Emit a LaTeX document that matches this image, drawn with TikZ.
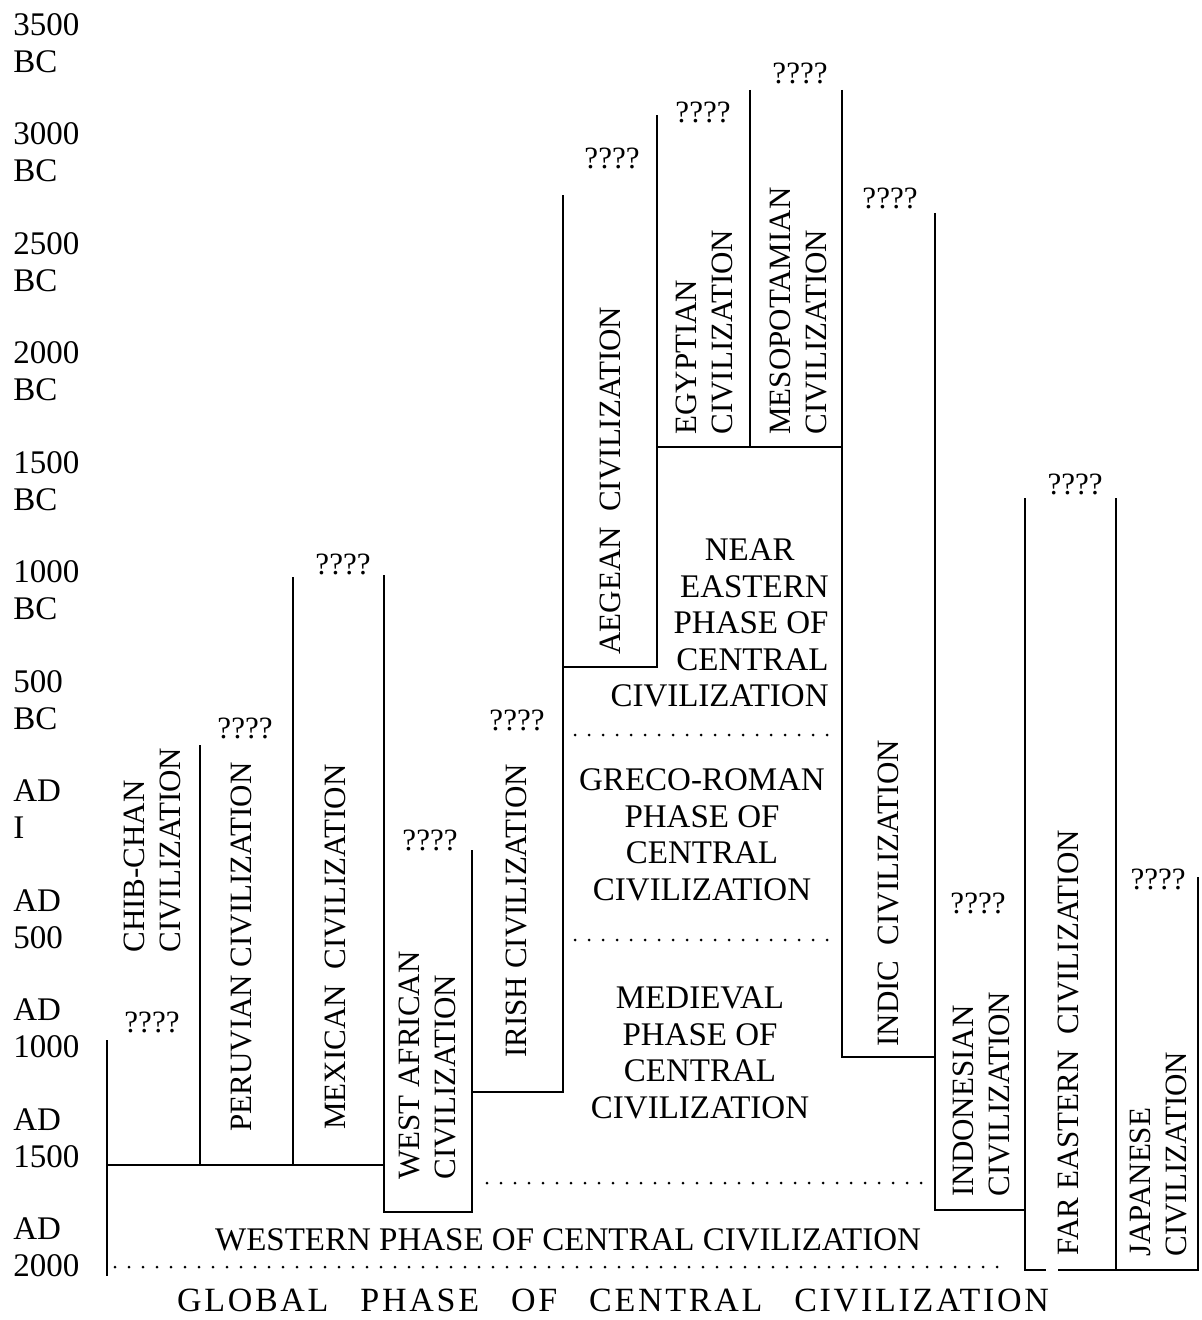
\documentclass[tikz,border=0pt]{standalone}
\usepackage{fontspec}
\setmainfont{Liberation Serif}

\begin{document}
\begin{tikzpicture}[x=0.5pt,y=-0.5pt,
    rule/.style={line width=1.2pt},
    dotline/.style={line width=1.5pt,line cap=round,dash pattern=on 0pt off 7pt},
    yearlab/.style={anchor=west,align=left,inner sep=0pt,font=\fontsize{16.5}{18.5}\selectfont},
    civ/.style={rotate=90,anchor=west,align=left,inner sep=0pt,font=\fontsize{15.5}{18}\selectfont},
    qmark/.style={inner sep=0pt,font=\fontsize{15.5}{18}\selectfont},
    phase/.style={align=center,inner sep=0pt,font=\fontsize{16.5}{18.3}\selectfont}]
\useasboundingbox (0,0) rectangle (1202,1320);

\foreach \lab [count=\i from 0] in {{3500\\BC},{3000\\BC},{2500\\BC},{2000\\BC},{1500\\BC},{1000\\BC},
    {500\\BC},{AD\\I},{AD\\500},{AD\\1000},{AD\\1500},{AD\\2000}}
    \node[yearlab] (yr\i) at (13,43+109.5*\i) {\lab};

\draw[rule] (107,1040) -- (107,1276);
\draw[rule] (107,1165) -- (384,1165);
\draw[rule] (200,745) -- (200,1165);
\draw[rule] (293,577) -- (293,1165);
\draw[rule] (384,575) -- (384,1212) -- (472,1212) -- (472,850);
\draw[rule] (472,1092) -- (563,1092) -- (563,195);
\draw[rule] (563,667) -- (657,667) -- (657,115);
\draw[rule] (657,447) -- (842,447);
\draw[rule] (750,90) -- (750,447);
\draw[rule] (842,90) -- (842,1057) -- (935,1057);
\draw[rule] (935,213) -- (935,1210) -- (1025,1210);
\draw[rule] (1025,498) -- (1025,1270) -- (1046,1270);
\draw[rule] (1058,1270) -- (1198,1270) -- (1198,877);
\draw[rule] (1116,498) -- (1116,1270);

\draw[dotline] (575,735) -- (840,735);
\draw[dotline] (575,940) -- (840,940);
\draw[dotline] (487,1183) -- (932,1183);
\draw[dotline] (115,1267) -- (1010,1267);

\begin{scope}[every node/.style={civ}]
    \node (chib) at (152,953) {CHIB-CHAN\\CIVILIZATION};
    \node (peru) at (241,1132) {PERUVIAN CIVILIZATION};
    \node (mex) at (335,1130) {MEXICAN\ \ CIVILIZATION};
    \node (wafr) at (427,1180) {WEST AFRICAN\\CIVILIZATION};
    \node (irish) at (516,1058) {IRISH CIVILIZATION};
    \node (aegean) at (610,655) {AEGEAN\ \ CIVILIZATION};
    \node (egypt) at (704,435) {EGYPTIAN\\CIVILIZATION};
    \node (meso) at (798,435) {MESOPOTAMIAN\\CIVILIZATION};
    \node (indic) at (888,1047) {INDIC\ \ CIVILIZATION};
    \node (indo) at (981,1197) {INDONESIAN\\CIVILIZATION};
    \node (fareast) at (1068,1256) {FAR EASTERN\ \ CIVILIZATION};
    \node (japan) at (1158,1257) {JAPANESE\\CIVILIZATION};
\end{scope}

\begin{scope}[every node/.style={qmark}]
    \node (q1) at (152,1022) {????};
    \node (q2) at (245,728) {????};
    \node (q3) at (343,564) {????};
    \node (q4) at (430,840) {????};
    \node (q5) at (517,720) {????};
    \node (q6) at (612,158) {????};
    \node (q7) at (703,112) {????};
    \node (q8) at (800,73) {????};
    \node (q9) at (890,198) {????};
    \node (q10) at (978,903) {????};
    \node (q11) at (1075,484) {????};
    \node (q12) at (1158,879) {????};
\end{scope}

\node[phase,align=right,anchor=east] (neareast) at (829,623) {NEAR\hspace*{17pt}\\EASTERN\\PHASE OF\\CENTRAL\\CIVILIZATION};
\node[phase] (grecorom) at (702,835) {GRECO-ROMAN\\PHASE OF\\CENTRAL\\CIVILIZATION};
\node[phase] (medieval) at (700,1053) {MEDIEVAL\\PHASE OF\\CENTRAL\\CIVILIZATION};
\node[phase] (western) at (568,1240) {WESTERN PHASE OF CENTRAL CIVILIZATION};
\node[phase,font=\fontsize{17}{18}\selectfont] (global) at (613,1300) {\addfontfeature{LetterSpace=8}GLOBAL\hspace{16pt}PHASE\hspace{16pt}OF\hspace{16pt}CENTRAL\hspace{16pt}CIVILIZATION};
\end{tikzpicture}
\end{document}
